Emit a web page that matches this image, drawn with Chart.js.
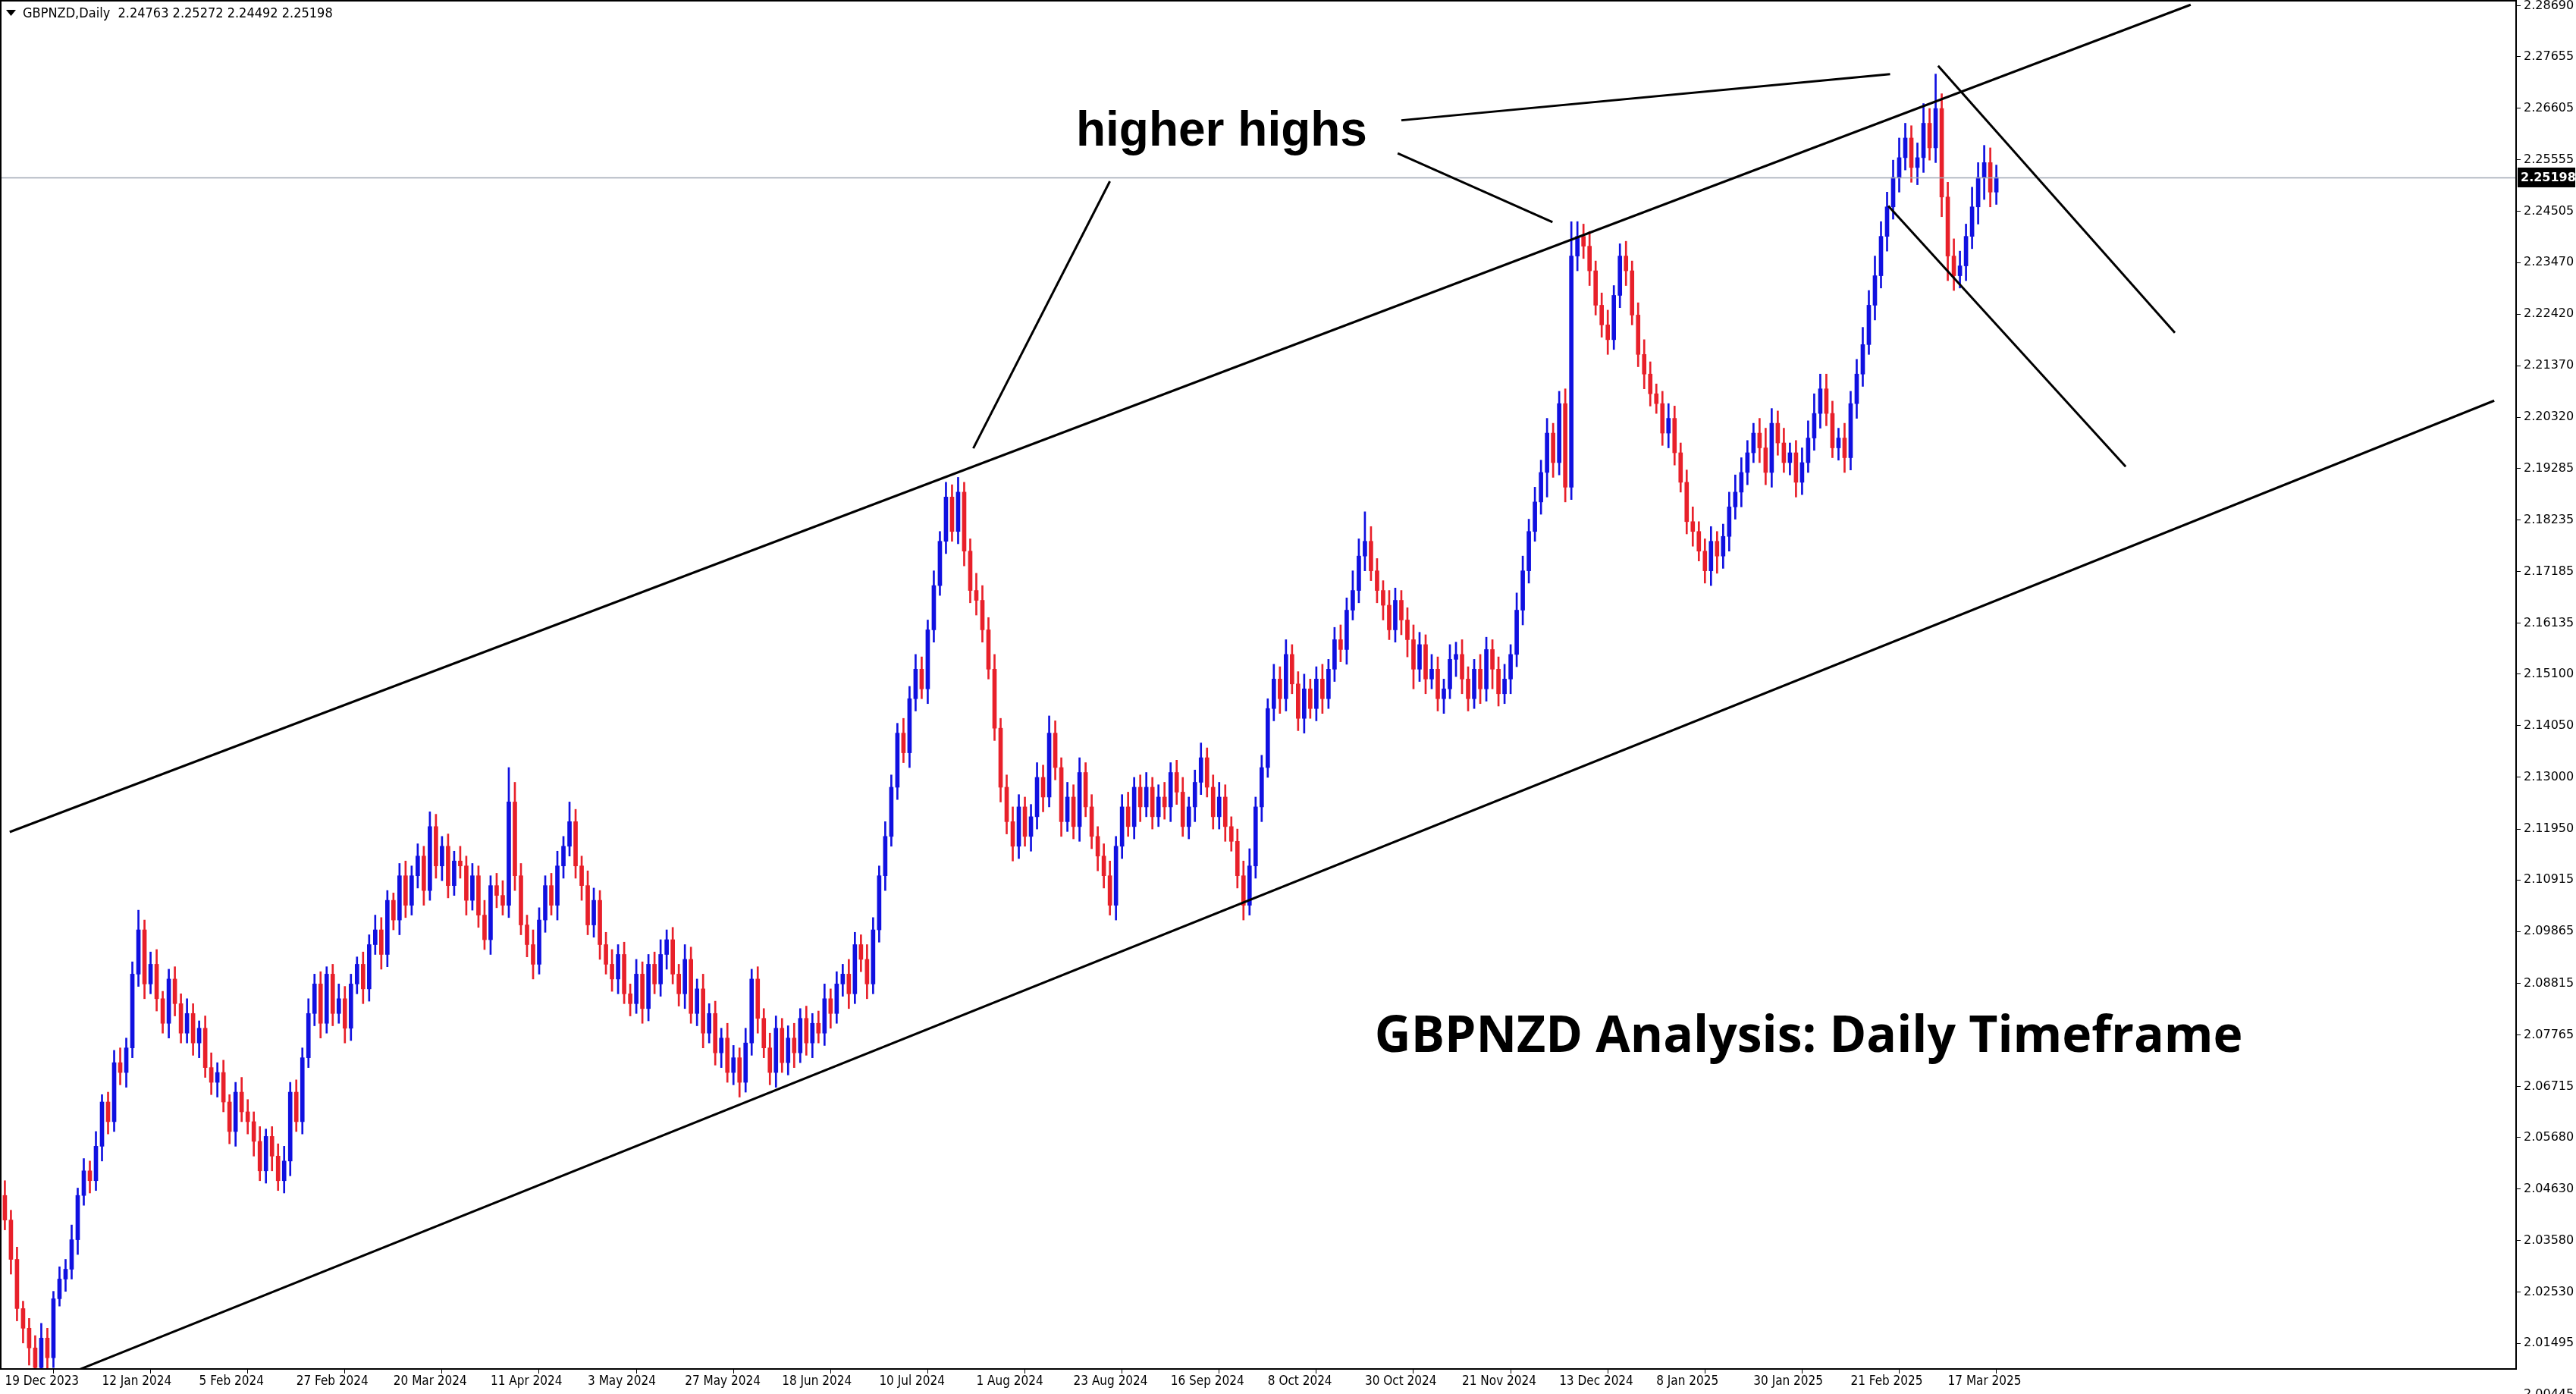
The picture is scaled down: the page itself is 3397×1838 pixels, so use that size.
<!DOCTYPE html>
<html><head><meta charset="utf-8">
<script src="https://cdn.jsdelivr.net/npm/chart.js@4"></script>
<style>html,body{margin:0;padding:0;background:#fff}#w{width:3397px;height:1838px}</style>
</head><body><div id="w"><canvas id="c"></canvas></div>
<script>
const symbolTitle = "GBPNZD,Daily  2.24763 2.25272 2.24492 2.25198";
const dateTickLabels = ["19 Dec 2023","12 Jan 2024","5 Feb 2024","27 Feb 2024","20 Mar 2024","11 Apr 2024","3 May 2024","27 May 2024","18 Jun 2024","10 Jul 2024","1 Aug 2024","23 Aug 2024","16 Sep 2024","8 Oct 2024","30 Oct 2024","21 Nov 2024","13 Dec 2024","8 Jan 2025","30 Jan 2025","21 Feb 2025","17 Mar 2025"];
const priceTicks = [2.28690,2.27655,2.26605,2.25555,2.24505,2.23470,2.22420,2.21370,2.20320,2.19285,2.18235,2.17185,2.16135,2.15100,2.14050,2.13000,2.11950,2.10915,2.09865,2.08815,2.07765,2.06715,2.05680,2.04630,2.03580,2.02530,2.01495,2.00445];
const lastPrice = 2.25198;
const firstOpen = 2.045;
const closes = [
2.040,2.032,2.022,2.018,2.014,2.010,2.016,2.012,2.024,2.028,
2.030,2.036,2.045,2.050,2.048,2.055,2.064,2.060,2.072,2.070,
2.075,2.090,2.099,2.088,2.092,2.085,2.080,2.089,2.084,2.078,
2.082,2.076,2.079,2.071,2.068,2.070,2.064,2.058,2.066,2.062,
2.060,2.056,2.050,2.057,2.053,2.048,2.052,2.066,2.060,2.073,
2.082,2.088,2.080,2.090,2.082,2.085,2.079,2.088,2.092,2.087,
2.096,2.099,2.094,2.105,2.101,2.110,2.104,2.110,2.114,2.107,
2.120,2.112,2.116,2.108,2.113,2.112,2.105,2.110,2.102,2.097,
2.108,2.106,2.104,2.125,2.110,2.100,2.096,2.092,2.101,2.108,
2.104,2.112,2.116,2.121,2.112,2.108,2.100,2.105,2.096,2.092,
2.089,2.094,2.086,2.084,2.090,2.083,2.092,2.088,2.094,2.097,
2.090,2.086,2.093,2.082,2.087,2.078,2.082,2.074,2.077,2.070,
2.073,2.068,2.076,2.089,2.081,2.075,2.070,2.079,2.072,2.077,
2.074,2.081,2.076,2.080,2.078,2.085,2.082,2.088,2.090,2.086,
2.096,2.093,2.088,2.099,2.110,2.118,2.128,2.139,2.135,2.146,
2.152,2.148,2.160,2.169,2.178,2.187,2.180,2.188,2.176,2.168,
2.166,2.160,2.152,2.140,2.128,2.121,2.116,2.124,2.118,2.122,
2.130,2.126,2.139,2.132,2.121,2.126,2.120,2.131,2.124,2.118,
2.114,2.110,2.104,2.116,2.124,2.120,2.128,2.124,2.128,2.122,
2.126,2.124,2.131,2.127,2.120,2.124,2.129,2.134,2.128,2.122,
2.126,2.120,2.117,2.110,2.104,2.112,2.124,2.132,2.144,2.150,
2.146,2.155,2.149,2.142,2.148,2.144,2.150,2.146,2.152,2.158,
2.156,2.164,2.168,2.175,2.178,2.172,2.168,2.165,2.160,2.166,
2.162,2.158,2.152,2.157,2.150,2.152,2.146,2.148,2.154,2.155,
2.150,2.146,2.152,2.148,2.156,2.152,2.147,2.150,2.155,2.164,
2.172,2.180,2.186,2.192,2.200,2.194,2.206,2.189,2.236,2.240,
2.238,2.233,2.226,2.222,2.219,2.228,2.236,2.233,2.224,2.216,
2.212,2.208,2.206,2.200,2.203,2.196,2.190,2.182,2.180,2.176,
2.172,2.178,2.175,2.179,2.185,2.188,2.192,2.196,2.200,2.197,
2.192,2.202,2.198,2.194,2.196,2.190,2.194,2.199,2.204,2.209,
2.204,2.197,2.199,2.195,2.206,2.212,2.218,2.226,2.232,2.240,
2.246,2.252,2.256,2.260,2.254,2.256,2.263,2.258,2.266,2.248,
2.236,2.232,2.234,2.240,2.246,2.252,2.255,2.249,2.2520];
const upperWickPips = [
30,20,25,15,20,25,30,20,15,25, 20,30,15,25,20,30,15,20,25,30, 20,25,40,20,25,30,15,20,25,20,
30,20,15,25,30,20,25,15,20,30, 25,20,30,15,20,25,30,20,25,20, 30,20,25,15,20,30,25,20,15,25,
20,30,25,20,15,25,30,20,25,20, 30,25,20,25,20,30,20,25,20,30, 20,25,30,70,40,25,20,30,25,20,
25,30,20,40,25,20,30,25,20,25, 30,20,25,20,30,25,20,25,30,20, 25,20,30,25,20,30,20,25,20,30,
25,20,30,20,25,20,30,25,20,25, 30,20,25,20,25,30,20,25,20,30, 25,20,30,25,20,30,25,20,30,25,
30,25,20,30,20,30,25,30,20,25, 35,30,25,30,20,25,30,25,20,25, 30,25,35,25,20,30,25,30,20,25,
20,25,30,20,25,30,20,25,30,20, 25,30,20,25,30,20,25,30,20,25, 30,25,20,25,30,35,20,25,20,30,
25,30,20,25,30,20,25,30,20,25, 30,25,40,35,60,30,25,20,30,25, 20,25,30,25,20,30,25,20,30,25,
30,25,20,30,25,20,25,30,20,35, 30,25,30,25,30,20,25,30,70,30, 25,30,20,25,30,20,25,30,20,25,
30,25,20,25,30,25,20,25,30,20, 25,30,20,25,30,35,30,25,20,30, 40,30,25,30,20,25,30,35,40,30,
30,25,20,30,25,30,35,30,40,30, 30,35,40,30,25,30,40,30,70,30, 30,35,30,25,40,30,35,30,25];
const lowerWickPips = [
20,30,25,30,35,35,20,25,20,15, 25,20,30,20,25,20,30,25,20,25, 30,20,25,30,20,25,20,30,25,20,
20,25,30,20,25,30,20,25,30,20, 25,30,20,25,30,20,25,30,20,25, 20,25,30,20,25,20,30,25,20,30,
25,20,30,25,20,30,25,20,25,30, 20,25,30,25,20,25,30,20,25,20, 30,25,20,25,30,20,25,30,20,25,
20,30,25,20,25,30,20,25,30,20, 25,30,20,25,20,30,25,20,25,30, 20,25,30,20,25,30,20,25,30,20,
25,30,20,25,30,20,25,30,20,25, 30,20,25,30,20,25,30,20,25,30, 20,25,30,20,25,30,20,25,20,30,
25,20,30,25,20,25,20,25,30,25, 30,25,20,25,30,25,30,25,20,30, 25,30,20,25,30,20,25,30,20,25,
30,25,20,30,25,20,25,30,20,25, 20,25,30,25,20,25,30,25,20,25, 25,30,20,25,30,20,25,30,20,25,
30,25,20,25,30,20,25,30,20,25, 25,30,20,25,30,20,25,30,20,25, 30,35,40,25,30,20,25,30,20,35,
30,25,20,30,25,40,25,20,30,25, 30,25,20,25,50,30,25,30,25,30, 25,30,20,25,30,20,25,30,20,25,
30,25,20,25,30,25,20,25,30,20, 25,30,35,25,30,25,30,25,20,30, 25,30,25,20,25,30,25,20,25,30,
25,20,25,30,25,30,25,20,30,25, 30,25,30,25,30,35,30,25,30,40, 50,30,25,30,25,35,45,30,25];
const trendLines = [
 [[0.8,2.1189],[360,2.2871]],
 [[6.2,2.0066],[410,2.2066]],
 [[182,2.2512],[159.5,2.1969]],
 [[229.4,2.2569],[254.9,2.2429]],
 [[230,2.2636],[310.5,2.2730]],
 [[318.4,2.2747],[357.4,2.2204]],
 [[310.2,2.2462],[349.3,2.1932]]
];
const noteHigher = {text:"higher highs", bar:200.4, price:2.2612};
const noteTitle = {text:"GBPNZD Analysis: Daily Timeframe", bar:297.1, price:2.0770};

const UP='#1010e0', DN='#e8202a';
const wickData=[], bodyData=[], colors=[];
let prev=firstOpen;
closes.forEach((c,i)=>{
  const o=prev; const hi=Math.max(o,c)+upperWickPips[i]/10000; const lo=Math.min(o,c)-lowerWickPips[i]/10000;
  wickData.push({x:i,y:[lo,hi]});
  let b=[o,c]; if(Math.abs(o-c)<0.0002) b=[o-0.0001,o+0.0001];
  bodyData.push({x:i,y:b});
  colors.push(c>=o?UP:DN);
  prev=c;
});

const overlay={id:'overlay',afterDraw(ch){
  const {ctx,chartArea:a,scales:{x,y}}=ch;
  ctx.save();
  ctx.beginPath();ctx.rect(a.left,a.top,a.right-a.left,a.bottom-a.top);ctx.clip();
  ctx.strokeStyle='#a0a8b4';ctx.lineWidth=1.5;ctx.beginPath();
  const ly=Math.round(y.getPixelForValue(lastPrice))+0.5;ctx.moveTo(a.left,ly);ctx.lineTo(a.right,ly);ctx.stroke();
  ctx.strokeStyle='#000';ctx.lineWidth=3;
  trendLines.forEach(l=>{ctx.beginPath();ctx.moveTo(x.getPixelForValue(l[0][0]),y.getPixelForValue(l[0][1]));ctx.lineTo(x.getPixelForValue(l[1][0]),y.getPixelForValue(l[1][1]));ctx.stroke();});
  ctx.fillStyle='#000';ctx.textAlign='center';ctx.textBaseline='middle';
  ctx.font='bold 64px "Liberation Sans", Arial, sans-serif';
  ctx.fillText(noteHigher.text,x.getPixelForValue(noteHigher.bar),y.getPixelForValue(noteHigher.price));
  ctx.font='bold 66px "Open Sans", sans-serif';
  ctx.fillText(noteTitle.text,x.getPixelForValue(noteTitle.bar),y.getPixelForValue(noteTitle.price));
  ctx.font='18px "DejaVu Sans Condensed","DejaVu Sans", sans-serif';ctx.textAlign='left';
  ctx.beginPath();ctx.moveTo(8,13);ctx.lineTo(21,13);ctx.lineTo(14.5,21);ctx.closePath();ctx.fill();
  ctx.fillText(symbolTitle,30,18);
  ctx.restore();
  ctx.save();ctx.strokeStyle='#000';ctx.lineWidth=2;ctx.strokeRect(a.left+1,a.top+1,a.right-a.left-1,a.bottom-a.top-1);
  const py=y.getPixelForValue(lastPrice);
  ctx.fillStyle='#000';ctx.fillRect(a.right+2,py-13,76,26);
  ctx.fillStyle='#fff';ctx.font='bold 16px "DejaVu Sans", sans-serif';ctx.textAlign='left';ctx.textBaseline='middle';
  ctx.fillText(lastPrice.toFixed(5),a.right+6,py+1);
  ctx.restore();
}};

new Chart(document.getElementById('c'),{
  type:'bar',
  data:{datasets:[
    {data:bodyData,backgroundColor:colors,barThickness:5,grouped:false,order:1},
    {data:wickData,backgroundColor:colors,barThickness:2,grouped:false,order:2}
  ]},
  options:{responsive:true,maintainAspectRatio:false,animation:false,
    layout:{padding:0},
    plugins:{legend:{display:false},tooltip:{enabled:false}},
    scales:{
      x:{type:'linear',min:-0.8,max:413.6,offset:false,
        grid:{drawOnChartArea:false,tickLength:6,color:'#000'},border:{display:false},
        afterBuildTicks:s=>{s.ticks=dateTickLabels.map((_,k)=>({value:k*16}));},
        afterFit:s=>{s.height=33;s.paddingLeft=0;s.paddingRight=0;},
        ticks:{autoSkip:false,maxRotation:0,minRotation:0,align:'start',padding:0,color:'#000',
          font:{family:'"DejaVu Sans Condensed","DejaVu Sans"',size:17},
          callback:(v)=>dateTickLabels[Math.round(v/16)]||''}},
      y:{position:'right',min:2.00972,max:2.28806,
        grid:{drawOnChartArea:false,tickLength:6,color:'#000'},border:{display:false},
        afterBuildTicks:s=>{s.ticks=priceTicks.map(v=>({value:v}));},
        afterFit:s=>{s.width=79;s.paddingTop=0;s.paddingBottom=0;},
        ticks:{autoSkip:false,padding:4,color:'#000',font:{family:'"DejaVu Sans"',size:16},
          callback:v=>Number(v).toFixed(5)}}
    }
  },
  plugins:[overlay]
});
</script></body></html>
